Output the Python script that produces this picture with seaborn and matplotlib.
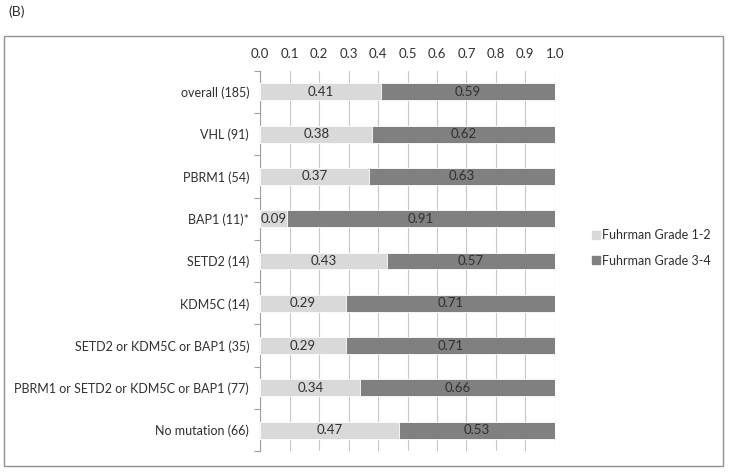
import numpy as np
import pandas as pd
import matplotlib
matplotlib.use("Agg")
import matplotlib.pyplot as plt
import seaborn as sns
from matplotlib.patches import Rectangle
from matplotlib.lines import Line2D

# data
groups = ["overall (185)", "VHL (91)", "PBRM1 (54)", "BAP1 (11)*", "SETD2 (14)", "KDM5C (14)",
          "SETD2 or KDM5C or BAP1 (35)", "PBRM1 or SETD2 or KDM5C or BAP1 (77)", "No mutation (66)"]
grade_12 = [0.41, 0.38, 0.37, 0.09, 0.43, 0.29, 0.29, 0.34, 0.47]
grade_34 = [0.59, 0.62, 0.63, 0.91, 0.57, 0.71, 0.71, 0.66, 0.53]
series_names = ["Fuhrman Grade 1-2", "Fuhrman Grade 3-4"]

light = "#d9d9d9"
dark = "#808080"

df = pd.DataFrame({"group": groups, "g12": grade_12, "g34": grade_34})
df["total"] = df["g12"] + df["g34"]

sns.set_theme(style="white")
plt.rcParams["font.family"] = ["Lato", "DejaVu Sans"]

fig = plt.figure(figsize=(7.29, 4.72), dpi=100)
ax = fig.add_axes([0.357, 0.044, 0.404, 0.806])

# stacked: full bar in dark, light segment on top of it
sns.barplot(data=df, y="group", x="total", color=dark, width=0.4, orient="h",
            saturation=1, ax=ax, zorder=3)
sns.barplot(data=df, y="group", x="g12", color=light, width=0.4, orient="h",
            saturation=1, ax=ax, zorder=4)
for p in ax.patches:
    p.set_edgecolor("white")
    p.set_linewidth(0.6)

for i, (a, b) in enumerate(zip(grade_12, grade_34)):
    ax.text(a / 2, i, f"{a:.2f}", ha="center", va="center", fontsize=9.5, color="#303030", zorder=5)
    ax.text(a + b / 2, i, f"{b:.2f}", ha="center", va="center", fontsize=9.5, color="#303030", zorder=5)

ax.set_xlim(0, 1.0)
ax.set_ylim(len(groups) - 0.5, -0.5)
ax.set_xticks(np.arange(0, 1.01, 0.1))
ax.set_xticklabels([f"{t:.1f}" for t in np.arange(0, 1.01, 0.1)], fontsize=9.5, color="#303030")
ax.xaxis.tick_top()
ax.tick_params(axis="x", length=0, pad=8)
ax.grid(axis="x", color="#c8c8c8", linewidth=0.8, zorder=0)
ax.set_axisbelow(True)
ax.set_xlabel("")
ax.set_ylabel("")
ax.tick_params(axis="y", which="major", length=0, labelsize=9, labelcolor="#303030", pad=8)
ax.set_yticks(np.arange(-0.5, len(groups), 1.0), minor=True)
ax.tick_params(axis="y", which="minor", length=4, color="#a0a0a0", width=0.8, left=True)
for s in ["top", "right", "bottom"]:
    ax.spines[s].set_visible(False)
ax.spines["left"].set_color("#a0a0a0")
ax.spines["left"].set_linewidth(0.8)

handles = [Line2D([], [], marker="s", linestyle="", markersize=6, color=light),
           Line2D([], [], marker="s", linestyle="", markersize=6, color=dark)]
fig.legend(handles, series_names, loc="center left", bbox_to_anchor=(0.795, 0.475),
           frameon=False, fontsize=9, handletextpad=0.1, labelspacing=1.1, handlelength=0.8,
           labelcolor="#303030")

fig.patches.append(Rectangle((0.006, 0.012), 0.986, 0.912, transform=fig.transFigure,
                             fill=False, edgecolor="#909090", linewidth=1.0))
fig.text(0.012, 0.975, "(B)", fontsize=10, va="center", ha="left", color="#303030")

fig.savefig("out.png", dpi=100)
